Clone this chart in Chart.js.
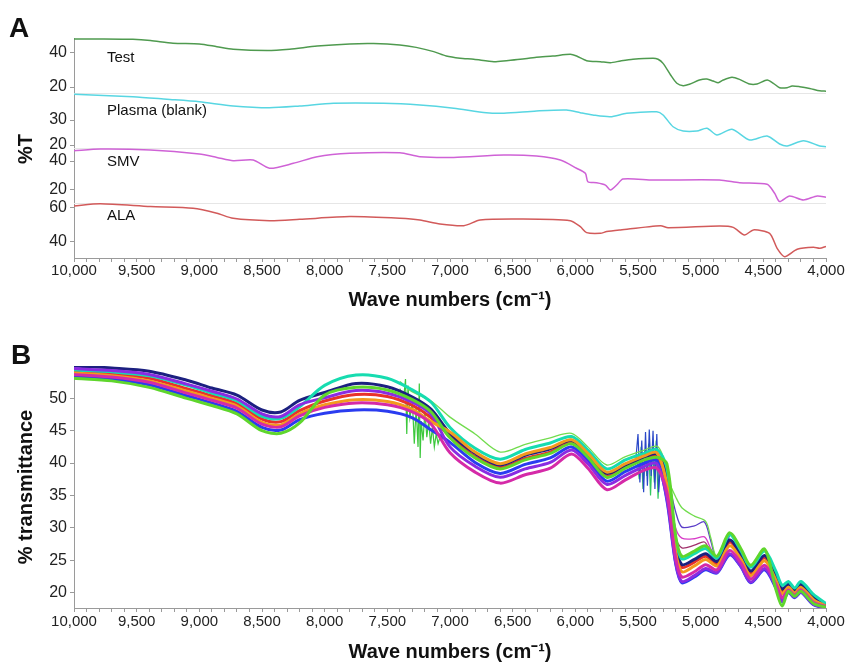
<!DOCTYPE html>
<html>
<head>
<meta charset="utf-8">
<script src="https://cdn.jsdelivr.net/npm/chart.js@4.4.1/dist/chart.umd.min.js"></script>
<style>
  html, body { margin: 0; padding: 0; background: #fff; }
  #wrap { position: relative; width: 846px; height: 664px; }
  canvas { position: absolute; left: 0; }
  #chartA { top: 0; }
  #chartB { top: 312px; }
</style>
</head>
<body>
<div id="wrap">
  <canvas id="chartA" width="846" height="312" style="width:846px;height:312px"></canvas>
  <canvas id="chartB" width="846" height="352" style="width:846px;height:352px"></canvas>
</div>
<script>
// x axis labels (wave numbers, cm-1)
const xTickLabels = [10000, 9500, 9000, 8500, 8000, 7500, 7000, 6500, 6000, 5500, 5000, 4500, 4000];

// ---- panel A : four stacked spectra ----
const testWn = [10000, 9800, 9530, 9390, 9210, 9000, 8860, 8730, 8460, 8280, 8060, 7800, 7610, 7400, 7270, 7130, 7030, 6920, 6810, 6650, 6550, 6440, 6310, 6180, 6040, 5990, 5910, 5800, 5720, 5640, 5540, 5380, 5340, 5300, 5240, 5190, 5140, 5090, 5010, 4950, 4900, 4860, 4820, 4750, 4690, 4610, 4550, 4470, 4420, 4370, 4310, 4270, 4210, 4130, 4050, 4000];
const testVal = [48.2, 48.2, 48.0, 47.3, 45.7, 45.3, 43.7, 42.2, 41.4, 42.2, 44.1, 45.3, 45.5, 44.7, 43.3, 40.8, 38.2, 36.9, 36.3, 34.9, 35.5, 36.3, 37.5, 38.2, 39.2, 38.2, 35.5, 34.9, 34.3, 35.3, 36.3, 36.9, 36.3, 33.9, 27.1, 22.2, 20.8, 21.6, 24.1, 24.7, 23.5, 22.5, 24.1, 25.7, 24.5, 21.8, 21.8, 24.1, 22.2, 19.6, 19.6, 20.6, 20.2, 19.2, 17.8, 17.6];

const plasmaWn = [10000, 9530, 9260, 9000, 8730, 8440, 8200, 7930, 7530, 7240, 6970, 6710, 6570, 6310, 6070, 5960, 5860, 5720, 5590, 5350, 5300, 5220, 5140, 5030, 4950, 4870, 4750, 4610, 4470, 4370, 4310, 4180, 4050, 4000];
const plasmaVal = [40.3, 39.3, 38.3, 37.3, 35.6, 34.9, 35.6, 36.7, 36.7, 36.0, 34.7, 32.9, 32.7, 33.6, 34.0, 32.9, 32.0, 31.3, 32.7, 33.3, 32.0, 27.3, 25.6, 25.6, 26.7, 24.0, 26.3, 22.0, 23.6, 20.4, 19.6, 21.7, 19.6, 19.3];

const smvWn = [10000, 9790, 9390, 9000, 8860, 8730, 8570, 8440, 8250, 8060, 7800, 7400, 7240, 6970, 6570, 6310, 6120, 5990, 5920, 5900, 5830, 5760, 5720, 5670, 5620, 5380, 4850, 4690, 4470, 4410, 4370, 4290, 4180, 4070, 4000];
const smvVal = [47.1, 48.3, 47.6, 44.8, 42.5, 40.2, 40.7, 35.0, 38.4, 43.0, 45.3, 45.7, 43.0, 42.5, 44.1, 43.4, 40.7, 35.0, 31.5, 25.7, 25.0, 23.4, 20.0, 23.4, 27.6, 26.9, 26.9, 25.0, 23.9, 17.7, 12.0, 15.9, 13.1, 15.9, 15.0];

const alaWn = [10000, 9790, 9390, 9050, 8860, 8730, 8440, 8200, 7800, 7400, 7240, 7080, 6890, 6760, 6440, 6040, 5960, 5910, 5800, 5750, 5640, 5320, 5260, 4850, 4740, 4650, 4580, 4450, 4390, 4330, 4230, 4100, 4050, 4000];
const alaVal = [61.2, 62.4, 60.8, 59.8, 56.9, 53.9, 52.5, 53.3, 54.9, 53.9, 52.9, 50.6, 49.6, 52.9, 53.5, 52.5, 49.0, 45.5, 45.1, 46.1, 47.1, 49.6, 48.4, 49.4, 48.6, 44.1, 47.1, 45.1, 36.3, 31.4, 35.7, 36.9, 36.3, 37.4];

const bandTicks = { Test: [20, 40], Plasma: [20, 30], SMV: [20, 40], ALA: [40, 60] };

// ---- panel B : overlaid spectra ----
const wnB = [10000, 9700, 9400, 9100, 8900, 8700, 8500, 8350, 8200, 8000, 7750, 7500, 7300, 7150, 7000, 6800, 6600, 6400, 6200, 6030, 5900, 5750, 5600, 5450, 5350, 5270, 5200, 5150, 5050, 4960, 4870, 4770, 4680, 4600, 4490, 4400, 4350, 4300, 4250, 4200, 4100, 4000];
const specNavy = [55.0, 54.7, 54.2, 52.8, 51.6, 50.5, 48.2, 47.9, 49.7, 50.9, 52.3, 51.8, 50.2, 48.3, 44.6, 41.5, 39.7, 41.2, 42.2, 43.5, 41.3, 38.4, 39.7, 40.9, 41.4, 38.1, 27.4, 24.3, 25.1, 26.0, 24.8, 28.1, 25.9, 23.3, 25.7, 22.7, 20.5, 21.3, 20.4, 21.3, 19.3, 18.1];
const specCyan = [54.4, 54.1, 53.5, 52.0, 50.8, 49.6, 47.2, 46.9, 48.7, 52.0, 53.6, 53.1, 51.3, 49.4, 45.5, 42.3, 40.6, 42.1, 43.1, 44.1, 42.0, 39.1, 40.5, 41.5, 42.1, 39.3, 28.3, 25.2, 26.0, 26.8, 25.3, 28.9, 26.5, 23.9, 26.4, 23.3, 21.1, 21.7, 20.7, 21.7, 19.7, 18.3];
const specPurple = [54.6, 54.3, 53.7, 52.2, 51.1, 49.9, 47.6, 47.2, 49.0, 50.1, 51.2, 50.8, 49.4, 47.5, 42.5, 39.5, 37.8, 39.1, 40.1, 42.0, 39.9, 36.7, 38.1, 39.5, 39.9, 34.6, 24.7, 21.7, 22.6, 23.7, 23.1, 26.0, 24.1, 21.6, 23.7, 20.9, 18.7, 20.1, 19.3, 20.1, 18.2, 17.6];
const specRed = [54.1, 53.8, 53.1, 51.5, 50.4, 49.2, 46.8, 46.4, 48.1, 49.6, 50.6, 50.3, 48.9, 47.0, 44.1, 41.0, 39.3, 40.7, 41.7, 43.2, 41.0, 38.0, 39.4, 40.6, 41.1, 37.5, 27.0, 23.9, 24.7, 25.6, 24.5, 27.8, 25.6, 23.0, 25.4, 22.4, 20.2, 21.1, 20.2, 21.1, 19.1, 18.0];
const specOrange = [53.9, 53.5, 52.7, 51.1, 50.0, 48.8, 46.3, 45.9, 47.6, 49.0, 49.8, 49.5, 48.3, 46.4, 44.8, 41.7, 39.9, 41.4, 42.4, 43.6, 41.5, 38.6, 39.9, 41.1, 41.6, 36.7, 26.3, 23.2, 24.1, 25.1, 24.1, 27.2, 25.2, 22.6, 24.9, 21.9, 19.8, 20.8, 19.9, 20.8, 18.9, 17.9];
const specMagenta = [53.7, 53.3, 52.5, 50.8, 49.7, 48.5, 46.0, 45.6, 47.3, 48.6, 49.3, 49.0, 47.9, 46.0, 41.6, 38.6, 36.9, 38.2, 39.2, 41.4, 39.2, 35.9, 37.4, 38.9, 39.2, 35.5, 25.4, 22.4, 23.2, 24.3, 23.5, 26.5, 24.6, 22.1, 24.2, 21.3, 19.2, 20.4, 19.6, 20.4, 18.5, 17.8];
const specLime = [53.1, 52.7, 51.7, 50.0, 48.9, 47.6, 45.0, 44.6, 46.2, 50.5, 51.7, 51.3, 49.8, 47.9, 43.9, 40.8, 39.1, 40.5, 41.5, 43.0, 40.9, 37.8, 39.2, 40.5, 40.9, 39.9, 28.8, 25.6, 26.4, 27.2, 25.6, 29.2, 26.8, 24.2, 26.7, 20.5, 17.9, 20.2, 19.4, 20.2, 18.3, 17.7];
const specBlue = [53.4, 53.0, 52.1, 50.4, 49.3, 48.0, 45.5, 45.1, 46.7, 47.7, 48.2, 48.0, 47.0, 45.1, 43.2, 40.1, 38.4, 39.8, 40.8, 42.5, 40.4, 37.2, 38.7, 40.0, 40.4, 34.3, 24.5, 21.5, 22.4, 23.5, 23.0, 25.8, 24.0, 21.5, 23.5, 20.7, 18.6, 20.0, 19.2, 20.0, 18.1, 17.6];

// spectra that stay high after the 5,300 drop
const outWn = [7400, 7300, 7150, 7000, 6800, 6600, 6400, 6200, 6030, 5900, 5750, 5600, 5450, 5350, 5300, 5250, 5200, 5150, 5050, 4960, 4920, 4870, 4770];
const outGreen = [52.6, 51.0, 49.6, 47.1, 44.5, 41.7, 42.9, 43.9, 44.6, 42.5, 39.7, 41.0, 42.0, 42.6, 41.0, 37.0, 34.8, 33.1, 31.8, 31.0, 28.5, 25.5, 29.4];
const out2Wn = [5350, 5270, 5200, 5150, 5050, 4970, 4920, 4870, 4770];
const outViolet = [41.0, 38.0, 32.5, 30.1, 30.3, 30.9, 28.0, 25.2, 28.7];
const outPink = [41.2, 37.0, 30.0, 28.4, 28.3, 28.6, 26.8, 25.0, 28.3];
const outPlum = [40.8, 36.5, 28.5, 26.9, 27.3, 27.8, 26.2, 24.8, 28.0];

// noisy stretches
const noise1Wn = [7400, 7370, 7355, 7345, 7335, 7320, 7300, 7285, 7270, 7255, 7245, 7238, 7230, 7215, 7200, 7185, 7170, 7155, 7140, 7125, 7110, 7095, 7080];
const noise1Val = [51.5, 50.0, 53.0, 44.5, 52.0, 47.0, 49.5, 43.0, 48.5, 42.5, 52.3, 40.8, 46.5, 43.5, 48.0, 44.0, 46.5, 43.0, 45.5, 42.5, 44.5, 43.0, 44.0];
const noise2Wn = [5520, 5500, 5485, 5470, 5455, 5440, 5425, 5410, 5395, 5380, 5365, 5350, 5335, 5320, 5300];
const noise2Val = [40.0, 44.5, 37.0, 43.5, 35.5, 44.8, 36.5, 45.2, 38.0, 45.0, 36.0, 44.5, 35.5, 40.0, 38.0];
const noise3Wn = [5510, 5490, 5475, 5460, 5445, 5430, 5415, 5400, 5385, 5370, 5355, 5340, 5325];
const noise3Val = [41.0, 37.5, 42.5, 36.0, 42.0, 38.0, 43.0, 35.0, 42.5, 37.0, 43.5, 34.5, 41.0];

const yTicksB = [20, 25, 30, 35, 40, 45, 50];

Chart.defaults.font.family = '"Liberation Sans", Arial, Helvetica, sans-serif';
Chart.defaults.color = '#222';

function pts(xs, ys) {
  return xs.map((x, i) => ({ x: x, y: ys[i] }));
}

// every 100 cm-1 a small tick, labels every 500
const minorTicks = [];
for (let v = 10000; v >= 4000; v -= 100) minorTicks.push(v);

function xAxis(h, pad) {
  return {
    type: 'linear', reverse: true, min: 4000, max: 10000,
    afterBuildTicks: s => { s.ticks = minorTicks.map(v => ({ value: v })); },
    afterFit: s => { s.height = h; },
    ticks: {
      autoSkip: false, maxRotation: 0, padding: pad, color: '#222', font: { size: 15 },
      callback: v => (xTickLabels.includes(v) ? v.toLocaleString('en-US') : '')
    },
    grid: { drawOnChartArea: false, tickLength: 4, color: '#9a9a9a' },
    border: { color: '#9a9a9a', dash: [2, 2] },
    title: {
      display: true, text: 'Wave numbers (cm⁻¹)', color: '#111',
      font: { size: 20, weight: 'bold' }, padding: { top: 0, bottom: 0 }
    }
  };
}

function bandAxis(weight, min, max, ticks) {
  return {
    type: 'linear', position: 'left', stack: 'bands', stackWeight: 1, weight: weight,
    min: min, max: max,
    afterBuildTicks: s => { s.ticks = ticks.map(v => ({ value: v })); },
    afterFit: s => { s.width = 74; },
    grid: { drawOnChartArea: false, tickLength: 4, color: '#9a9a9a' },
    border: { color: '#9a9a9a', dash: [2, 2] },
    ticks: { color: '#222', font: { size: 16 }, padding: 3 }
  };
}

function textPlugin(items) {
  return {
    id: 'texts',
    afterDraw(chart) {
      const ctx = chart.ctx;
      items.forEach(t => {
        ctx.save();
        ctx.font = t.font;
        ctx.fillStyle = '#111';
        ctx.textAlign = t.align || 'left';
        ctx.textBaseline = 'middle';
        ctx.translate(t.x, t.y);
        if (t.rot) ctx.rotate(t.rot);
        ctx.fillText(t.text, 0, 0);
        ctx.restore();
      });
    }
  };
}

const bandLines = {
  id: 'bandLines',
  beforeDatasetsDraw(chart) {
    const { ctx, chartArea } = chart;
    ctx.save();
    ctx.strokeStyle = '#e6e6e6';
    ctx.lineWidth = 1;
    ['yPlasma', 'ySMV', 'yALA'].forEach(id => {
      const y = Math.round(chart.scales[id].top) + 0.5;
      ctx.beginPath();
      ctx.moveTo(chartArea.left, y);
      ctx.lineTo(chartArea.right, y);
      ctx.stroke();
    });
    ctx.restore();
  }
};

function lineA(label, xs, ys, color, axis) {
  return { label: label, data: pts(xs, ys), yAxisID: axis, borderColor: color, borderWidth: 1.5, pointRadius: 0, tension: 0.25 };
}

new Chart(document.getElementById('chartA'), {
  type: 'line',
  data: {
    datasets: [
      lineA('Test', testWn, testVal, '#4f9a4f', 'yTest'),
      lineA('Plasma (blank)', plasmaWn, plasmaVal, '#58d6e2', 'yPlasma'),
      lineA('SMV', smvWn, smvVal, '#cf62d6', 'ySMV'),
      lineA('ALA', alaWn, alaVal, '#d25a5a', 'yALA')
    ]
  },
  options: {
    responsive: false, animation: false, events: [],
    layout: { padding: { top: 38, right: 20, left: 0, bottom: 0 } },
    plugins: { legend: { display: false }, tooltip: { enabled: false } },
    scales: {
      x: xAxis(54, 0),
      yTest: bandAxis(4, 16.5, 48.8, bandTicks.Test),
      yPlasma: bandAxis(3, 18.8, 40.8, bandTicks.Plasma),
      ySMV: bandAxis(2, 11, 49, bandTicks.SMV),
      yALA: bandAxis(1, 30.6, 62.9, bandTicks.ALA)
    }
  },
  plugins: [bandLines, textPlugin([
    { text: 'A', x: 9, y: 29, font: 'bold 28px "Liberation Sans", Arial, sans-serif' },
    { text: '%T', x: 26, y: 149, rot: -Math.PI / 2, align: 'center', font: 'bold 20px "Liberation Sans", Arial, sans-serif' },
    { text: 'Test', x: 107, y: 58, font: '15px "Liberation Sans", Arial, sans-serif' },
    { text: 'Plasma (blank)', x: 107, y: 111, font: '15px "Liberation Sans", Arial, sans-serif' },
    { text: 'SMV', x: 107, y: 162, font: '15px "Liberation Sans", Arial, sans-serif' },
    { text: 'ALA', x: 107, y: 216, font: '15px "Liberation Sans", Arial, sans-serif' }
  ])]
});

function lineB(xs, ys, color, width, tension) {
  return { data: pts(xs, ys), borderColor: color, borderWidth: width, pointRadius: 0, tension: tension };
}

new Chart(document.getElementById('chartB'), {
  type: 'line',
  data: {
    datasets: [
      lineB(wnB, specLime, '#5fd62c', 3, 0.3),
      lineB(wnB, specMagenta, '#d52aa8', 3, 0.3),
      lineB(wnB, specOrange, '#f39a1e', 3, 0.3),
      lineB(wnB, specPurple, '#8a2be2', 3, 0.3),
      lineB(wnB, specBlue, '#2a3cf0', 3, 0.3),
      lineB(wnB, specCyan, '#16dcb0', 3, 0.3),
      lineB(wnB, specNavy, '#1c2080', 3, 0.3),
      lineB(wnB, specRed, '#e8322a', 3, 0.3),
      lineB(outWn, outGreen, '#72dc4e', 1.3, 0.3),
      lineB(out2Wn, outViolet, '#5a3cc8', 1.3, 0.3),
      lineB(out2Wn, outPink, '#d83cc8', 1.3, 0.3),
      lineB(out2Wn, outPlum, '#a0306a', 1.3, 0.3),
      lineB(noise1Wn, noise1Val, '#3cc83c', 1.2, 0),
      lineB(noise2Wn, noise2Val, '#2a48c8', 1.2, 0),
      lineB(noise3Wn, noise3Val, '#34c860', 1.2, 0)
    ]
  },
  options: {
    responsive: false, animation: false, events: [],
    layout: { padding: { top: 54, right: 20, left: 0, bottom: 0 } },
    plugins: { legend: { display: false }, tooltip: { enabled: false } },
    scales: {
      x: xAxis(56, 1),
      y: {
        type: 'linear', position: 'left', min: 17.6, max: 55,
        afterBuildTicks: s => { s.ticks = yTicksB.map(v => ({ value: v })); },
        afterFit: s => { s.width = 74; },
        grid: { drawOnChartArea: false, tickLength: 4, color: '#9a9a9a' },
        border: { color: '#9a9a9a', dash: [2, 2] },
        ticks: { color: '#222', font: { size: 16 }, padding: 3 },
        title: {
          display: true, text: '% transmittance', color: '#111',
          font: { size: 20, weight: 'bold' }, padding: { top: 14, bottom: 0 }
        }
      }
    }
  },
  plugins: [textPlugin([
    { text: 'B', x: 11, y: 44, font: 'bold 28px "Liberation Sans", Arial, sans-serif' }
  ])]
});
</script>
</body>
</html>
